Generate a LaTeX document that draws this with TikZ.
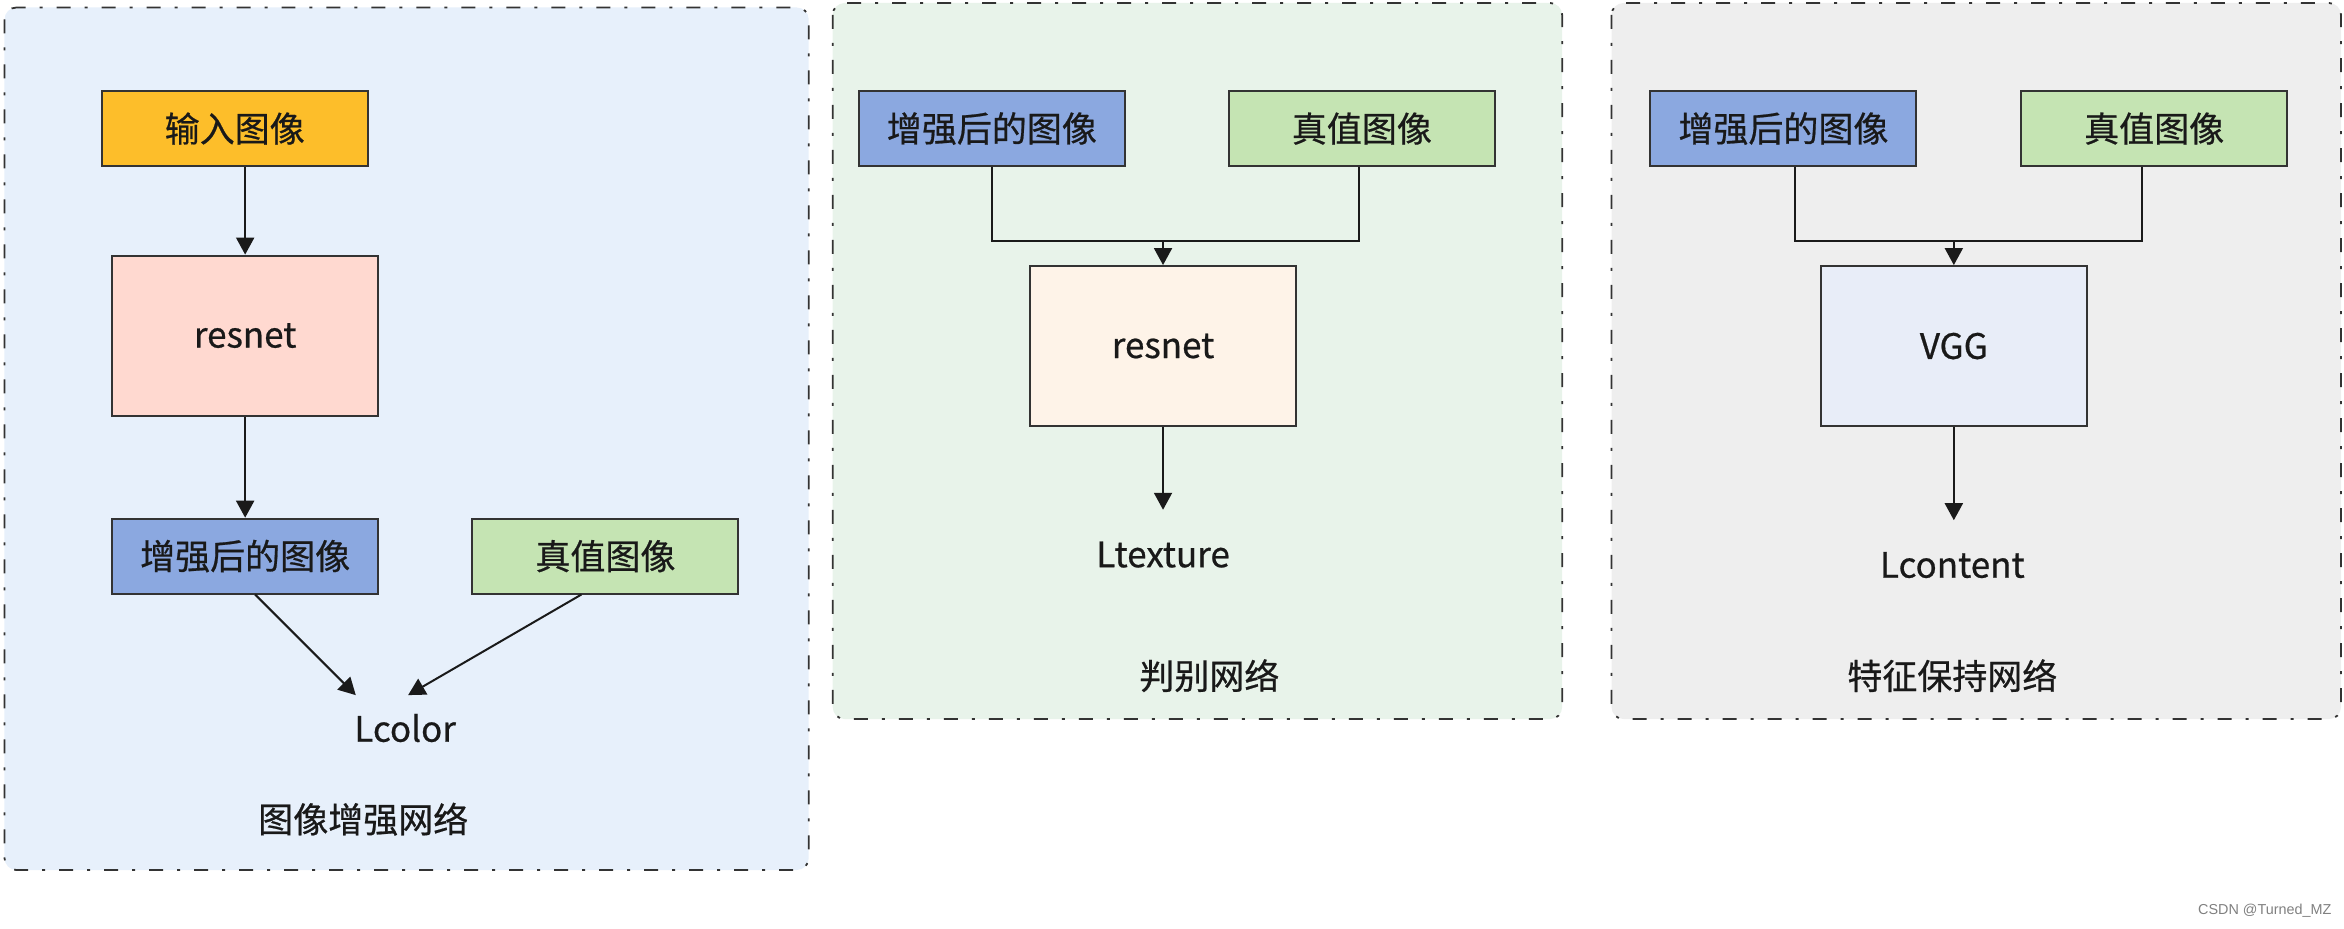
\documentclass[tikz,border=0pt]{standalone}
\usepackage{fontspec}
\setmainfont{Noto Sans CJK SC}[FakeBold=0.6]
\newfontfamily\wmfont{Liberation Sans}
\usetikzlibrary{arrows.meta,calc}
\definecolor{bgA}{HTML}{E7F0FB}
\definecolor{bgB}{HTML}{E8F3EA}
\definecolor{bgC}{HTML}{EEEEEE}
\definecolor{cOrange}{HTML}{FDBE2A}
\definecolor{cPink}{HTML}{FFD9D0}
\definecolor{cBlue}{HTML}{8BA8E0}
\definecolor{cGreen}{HTML}{C5E4B3}
\definecolor{cCream}{HTML}{FEF3E8}
\definecolor{cLav}{HTML}{E8EDF8}
\definecolor{ink}{HTML}{333333}
\definecolor{arrowink}{HTML}{1A1A1A}
\tikzset{
  panel/.style={draw=ink, line width=0.9pt, rounded corners=6pt,
    dash pattern=on 7pt off 7pt on 1.5pt off 7pt},
  box/.style={draw=ink, line width=1pt, minimum width=133pt, minimum height=37.4pt,
    inner sep=0pt, font=\fontsize{17.5pt}{20pt}\selectfont, text=black!90},
  bigbox/.style={box, minimum height=80pt},
  txt/.style={inner sep=0pt, font=\fontsize{17.5pt}{20pt}\selectfont, text=black!90},
  conn/.style={draw=arrowink, line width=1pt},
  arr/.style={conn, -{Triangle[length=8.5pt,width=9pt]}},
}
\begin{document}
\begin{tikzpicture}[x=0.7475pt, y=-0.7475pt]
\useasboundingbox (0,0) rectangle (1568,621);
% panels
\draw[panel, fill=bgA] (3,5) rectangle (541,582);
\draw[panel, fill=bgB] (557,2) rectangle (1045,481);
\draw[panel, fill=bgC] (1078,2) rectangle (1566,481);

% panel 1
\node[box, fill=cOrange] (in1) at (157,86) {输入图像};
\node[bigbox, fill=cPink] (res1) at (164,224.5) {resnet};
\node[box, fill=cBlue] (enh1) at (164,372) {增强后的图像};
\node[box, fill=cGreen] (gt1) at (405,372) {真值图像};
\node[txt] (lc1) at (271,487) {Lcolor};
\node[txt] (lab1) at (243,548) {图像增强网络};
\coordinate (e1) at (238,465);
\coordinate (e2) at (273,465);
\draw[arr] (in1.south -| res1.north) -- (res1.north);
\draw[arr] (res1.south) -- (enh1.north);
\draw[arr] ([xshift=5pt]enh1.south) -- (e1);
\draw[arr] ([xshift=-12pt]gt1.south) -- (e2);

% panel 2
\node[box, fill=cBlue] (enh2) at (663.5,86) {增强后的图像};
\node[box, fill=cGreen] (gt2) at (911,86) {真值图像};
\node[bigbox, fill=cCream] (res2) at (778,231.5) {resnet};
\node[txt] (lt2) at (778,371) {Ltexture};
\node[txt] (lab2) at (809,452) {判别网络};
\coordinate (j2) at (778,161);
\coordinate (t2) at (778,341);
\draw[conn] (enh2.south) |- (j2) -| ([xshift=-1.5pt]gt2.south);
\draw[arr] (j2) -- (res2.north);
\draw[arr] (res2.south) -- (t2);

% panel 3
\node[box, fill=cBlue] (enh3) at (1193,86) {增强后的图像};
\node[box, fill=cGreen] (gt3) at (1441,86) {真值图像};
\node[bigbox, fill=cLav] (vgg) at (1307,231.5) {VGG};
\node[txt] (lt3) at (1306,378) {Lcontent};
\node[txt] (lab3) at (1306,452) {特征保持网络};
\coordinate (j3) at (1307,161);
\coordinate (t3) at (1307,348);
\draw[conn] ([xshift=6pt]enh3.south) |- (j3) -| ([xshift=-6pt]gt3.south);
\draw[arr] (j3) -- (vgg.north);
\draw[arr] (vgg.south) -- (t3);

% watermark
\node[inner sep=0pt, font=\wmfont\fontsize{7.2pt}{8pt}\selectfont, text=black!50] (wm) at (1515,609) {CSDN @Turned\_MZ};
\end{tikzpicture}
\end{document}
